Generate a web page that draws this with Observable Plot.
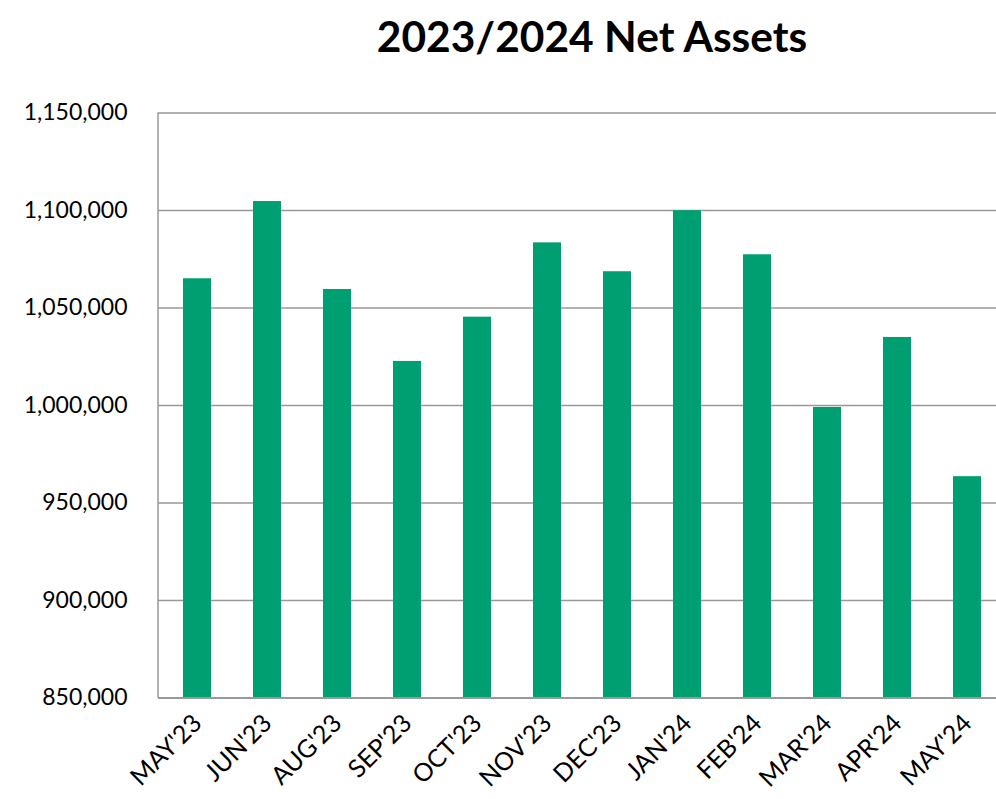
<!DOCTYPE html>
<html>
<head>
<meta charset="utf-8">
<script src="https://cdn.jsdelivr.net/npm/d3@7"></script>
<script src="https://cdn.jsdelivr.net/npm/@observablehq/plot@0.6"></script>
<style>
  html, body { margin: 0; padding: 0; background: #fff; overflow: hidden; width: 996px; height: 799px; }
  #wrap { position: relative; width: 996px; height: 799px; overflow: hidden; }
  #title { position: absolute; top: 10px; left: 592px; transform: translateX(-50%); white-space: nowrap;
           font-family: Lato, sans-serif; font-weight: bold; font-size: 42.5px; color: #000; }
  #chart { position: absolute; top: 0; left: 0; width: 1006px; }
</style>
</head>
<body>
<div id="wrap">
  <div id="title">2023/2024 Net Assets</div>
  <div id="chart"></div>
</div>
<script>
const months = ["MAY'23","JUN'23","AUG'23","SEP'23","OCT'23","NOV'23","DEC'23","JAN'24","FEB'24","MAR'24","APR'24","MAY'24"];
const netAssets = [1065000, 1104600, 1059500, 1022600, 1045300, 1083400, 1068600, 1099900, 1077300, 999000, 1034900, 963500];
const yTicks = [850000, 900000, 950000, 1000000, 1050000, 1100000, 1150000];

const data = months.map((m, i) => ({month: m, value: netAssets[i]}));

const chart = Plot.plot({
  width: 1006,
  height: 799,
  marginTop: 112.5,
  marginBottom: 101.5,
  marginLeft: 158,
  marginRight: 0,
  style: {fontFamily: "Lato, sans-serif", fontSize: "23px", color: "#000", background: "transparent", overflow: "visible", maxWidth: "none"},
  x: {domain: months, paddingInner: 0.6, paddingOuter: 0.3, label: null},
  y: {domain: [850000, 1150000], label: null},
  marks: [
    Plot.ruleY(yTicks.slice(1), {stroke: "#999", strokeWidth: 1.5}),
    Plot.barY(data, {x: "month", y1: 850000, y2: "value", fill: "#009F71"}),
    Plot.ruleY([850000], {stroke: "#999", strokeWidth: 2}),
    Plot.axisY({ticks: yTicks, tickFormat: d3.format(","), tickSize: 0, tickPadding: 31, label: null}),
    Plot.axisX({tickSize: 0, tickPadding: 21, tickRotate: -45, label: null, fontSize: "25px"})
  ]
});

document.getElementById("chart").appendChild(chart);
// left axis line
d3.select(chart).append("line")
  .attr("x1", 158).attr("x2", 158)
  .attr("y1", 112.5).attr("y2", 697.5)
  .attr("stroke", "#999").attr("stroke-width", 1.5);
</script>
</body>
</html>
